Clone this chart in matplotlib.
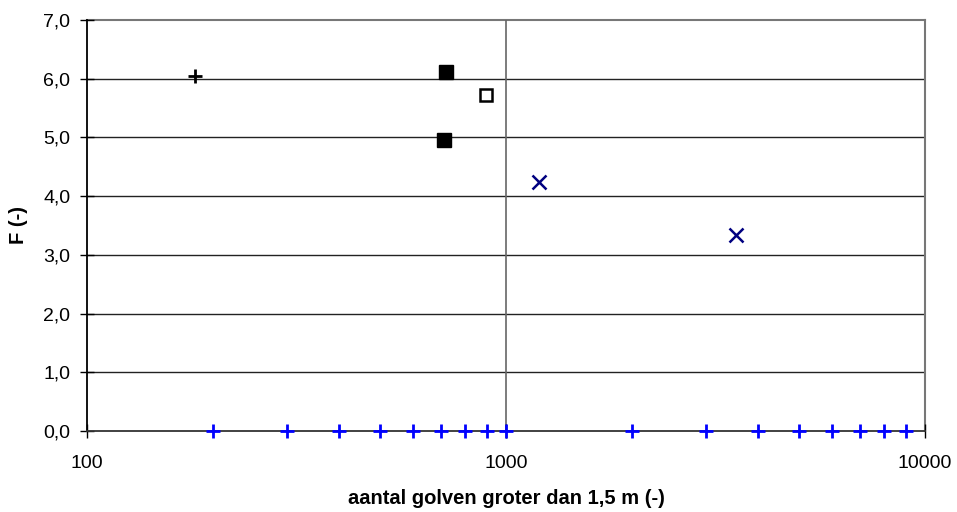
import numpy as np
import matplotlib.pyplot as plt
from matplotlib.ticker import FixedLocator, NullLocator

plt.rcParams['font.family'] = ['Liberation Sans', 'DejaVu Sans']

# series
plus_black_x = [181]
plus_black_y = [6.05]

sq_filled_x = [721, 711]
sq_filled_y = [6.11, 4.96]

sq_open_x = [895]
sq_open_y = [5.72]

cross_x = [1201, 3540]
cross_y = [4.24, 3.33]

plus_blue_x = [200, 300, 400, 500, 600, 700, 800, 900, 1000,
               2000, 3000, 4000, 5000, 6000, 7000, 8000, 9000]
plus_blue_y = [0.0] * len(plus_blue_x)

y_ticks = [0, 1, 2, 3, 4, 5, 6, 7]
x_ticks = [100, 1000, 10000]

fig = plt.figure(figsize=(9.57, 5.12), dpi=100)
ax = fig.add_axes([87 / 957, 1 - 431 / 512, (925 - 87) / 957, (431 - 20) / 512])

ax.set_xscale('log')
ax.set_xlim(100, 10000)
ax.set_ylim(0, 7)

# grid
for yv in y_ticks[1:-1]:
    ax.axhline(yv, color='#222222', lw=1.0, zorder=1)
ax.axhline(7, color='#777777', lw=1.5, zorder=1, clip_on=False)
ax.axvline(1000, color='#666666', lw=1.2, zorder=1)
ax.axvline(10000, color='#777777', lw=1.5, zorder=1, clip_on=False)

ax.plot(plus_blue_x, plus_blue_y, ls='none', marker='+', ms=10, mew=2,
        color='#0000ff', zorder=4, clip_on=False)
ax.plot(plus_black_x, plus_black_y, ls='none', marker='+', ms=10, mew=2,
        color='black', zorder=4)
ax.plot(sq_filled_x, sq_filled_y, ls='none', marker='s', ms=10.5,
        color='black', zorder=4)
ax.plot(sq_open_x, sq_open_y, ls='none', marker='s', ms=9, mew=1.8,
        mfc='white', mec='black', zorder=4)
ax.plot(cross_x, cross_y, ls='none', marker='x', ms=10, mew=1.8,
        color='#000080', zorder=4)

for s in ['top', 'right']:
    ax.spines[s].set_visible(False)
ax.spines['left'].set_linewidth(1.3)
ax.spines['bottom'].set_linewidth(1.3)
ax.spines['bottom'].set_color('#333333')

ax.xaxis.set_major_locator(FixedLocator(x_ticks))
ax.xaxis.set_minor_locator(NullLocator())
ax.set_xticklabels([str(v) for v in x_ticks])
ax.set_yticks(y_ticks)
ax.set_yticklabels([f"{v:.1f}".replace('.', ',') for v in y_ticks])
ax.tick_params(axis='both', which='major', direction='inout', length=10,
               width=1, labelsize=14, colors='black')
ax.tick_params(axis='y', pad=7)
ax.tick_params(axis='x', pad=12)

ax.set_xlabel('aantal golven groter dan 1,5 m (-)', fontsize=14.5,
              fontweight='bold')
ax.set_ylabel('F (-)', fontsize=14.5, fontweight='bold')
ax.xaxis.set_label_coords(0.5, -(498 - 431) / 411, transform=ax.transAxes)
ax.yaxis.set_label_coords(-(87 - 18) / 838, 0.5)
ax.xaxis.label.set_va('center')
ax.yaxis.label.set_va('center')

fig.savefig('out.png', dpi=100)
